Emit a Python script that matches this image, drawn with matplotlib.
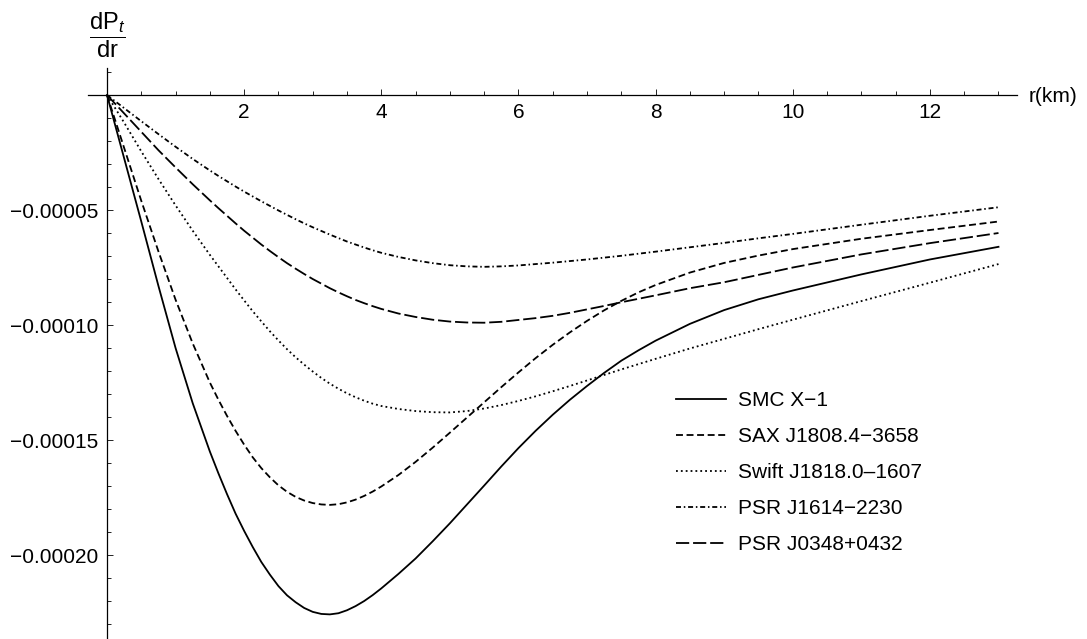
import matplotlib
matplotlib.use("Agg")
import matplotlib.pyplot as plt
from matplotlib.ticker import FixedLocator, FixedFormatter, MultipleLocator

plt.rcParams['font.family'] = ['Liberation Sans', 'DejaVu Sans']
plt.rcParams['mathtext.fontset'] = 'custom'
plt.rcParams['mathtext.rm'] = 'Liberation Sans'
plt.rcParams['mathtext.it'] = 'Liberation Sans:italic'
plt.rcParams['lines.scale_dashes'] = False

# radius (km) and dP_t/dr values, in units of 1e-5
r_km = [0, 0.25, 0.5, 0.75, 1.0, 1.25,
        1.5, 1.625, 1.75, 1.875, 2.0, 2.125, 2.25, 2.375, 2.5, 2.625, 2.75, 2.875,
        3.0, 3.125, 3.25, 3.375, 3.5, 3.625, 3.75, 3.875, 4.0,
        4.25, 4.5, 4.75, 5.0, 5.25, 5.5, 5.75, 6.0, 6.25, 6.5, 6.75, 7.0, 7.25,
        7.5, 7.75, 8.0,
        8.5, 9.0, 9.5, 10.0, 11.0, 12.0, 13.0]

smc_x1 = [0, -2.75, -5.5, -8.3, -11.0, -13.4,
          -15.5, -16.45, -17.35, -18.2, -18.95, -19.65, -20.3, -20.85, -21.35, -21.75,
          -22.05, -22.3, -22.47, -22.56, -22.58, -22.53, -22.4, -22.22, -22.0, -21.74,
          -21.45,
          -20.82, -20.15, -19.4, -18.62, -17.8, -16.98, -16.15, -15.35, -14.6, -13.9,
          -13.25, -12.65, -12.08, -11.55, -11.1, -10.68,
          -9.95, -9.35, -8.88, -8.5, -7.8, -7.15, -6.6]
sax_j1808 = [0, -2.3, -4.6, -6.8, -8.9, -10.8,
             -12.5, -13.25, -13.95, -14.6, -15.2, -15.75, -16.22, -16.62, -16.97, -17.25,
             -17.47, -17.63, -17.74, -17.8, -17.82, -17.79, -17.71, -17.59, -17.43,
             -17.24, -17.02,
             -16.52, -15.95, -15.33, -14.68, -14.02, -13.36, -12.7, -12.06, -11.44,
             -10.86, -10.32, -9.82, -9.36, -8.95, -8.58, -8.26,
             -7.72, -7.3, -6.98, -6.7, -6.25, -5.87, -5.5]
swift_j1818 = [0, -1.2, -2.45, -3.65, -4.8, -5.9,
               -6.95, -7.45, -7.95, -8.45, -8.93, -9.4, -9.84, -10.27, -10.67, -11.05,
               -11.4, -11.72, -12.02, -12.3, -12.55, -12.77, -12.97, -13.14, -13.29,
               -13.42, -13.52,
               -13.65, -13.74, -13.79, -13.8, -13.74, -13.63, -13.48, -13.3, -13.1,
               -12.88, -12.65, -12.41, -12.17, -11.93, -11.7, -11.47,
               -11.02, -10.6, -10.18, -9.77, -8.96, -8.16, -7.35]
psr_j1614 = [0, -0.57, -1.14, -1.7, -2.25, -2.78,
             -3.28, -3.52, -3.75, -3.98, -4.2, -4.41, -4.62, -4.82, -5.02, -5.21,
             -5.4, -5.58, -5.75, -5.91, -6.07, -6.22, -6.37, -6.5, -6.63, -6.75, -6.86,
             -7.04, -7.19, -7.31, -7.4, -7.45, -7.47, -7.45, -7.41, -7.35, -7.29,
             -7.22, -7.15, -7.07, -6.99, -6.9, -6.81,
             -6.62, -6.43, -6.23, -6.04, -5.64, -5.25, -4.88]
psr_j0348 = [0, -0.8, -1.6, -2.4, -3.15, -3.88,
             -4.58, -4.92, -5.25, -5.58, -5.9, -6.2, -6.5, -6.78, -7.05, -7.31,
             -7.55, -7.78, -8.0, -8.2, -8.4, -8.58, -8.75, -8.91, -9.05, -9.18, -9.3,
             -9.5, -9.65, -9.77, -9.85, -9.89, -9.9, -9.86, -9.78, -9.7, -9.6,
             -9.47, -9.32, -9.17, -9.01, -8.86, -8.71,
             -8.4, -8.14, -7.82, -7.5, -6.93, -6.44, -6.0]

star_names = ['SMC X\u22121', 'SAX J1808.4\u22123658', 'Swift J1818.0\u20131607',
              'PSR J1614\u22122230', 'PSR J0348+0432']
y_ticks = [-2e-4, -1.5e-4, -1e-4, -5e-5]
y_tick_labels = ['\u22120.00020', '\u22120.00015', '\u22120.00010', '\u22120.00005']
x_ticks = [2, 4, 6, 8, 10, 12]

series = [smc_x1, sax_j1808, swift_j1818, psr_j1614, psr_j0348]
styles = ['-', (0, (5.0, 2.6)), (0, (1.3, 2.2)), (0, (3.6, 2.0, 1.1, 2.0)),
          (0, (9.5, 2.8))]

W, H = 1087, 639
fig = plt.figure(figsize=(W / 100, H / 100), dpi=100)
ax = fig.add_axes([88 / W, 0, 929 / W, 571 / H])
ax.set_xlim(-0.277, 13.27)
ax.set_ylim(-2.365e-4, 1.174e-5)

for vals, ls, name in zip(series, styles, star_names):
    ax.plot(r_km, [v * 1e-5 for v in vals], color='black', lw=1.3, ls=ls,
            label=name, solid_joinstyle='round')

# mathematica-style axes crossing at the origin
for s in ['top', 'right']:
    ax.spines[s].set_visible(False)
ax.spines['left'].set_position(('data', 0))
ax.spines['bottom'].set_position(('data', 0))
for s in ['left', 'bottom']:
    ax.spines[s].set_linewidth(0.9)

ax.xaxis.set_major_locator(FixedLocator(x_ticks))
ax.xaxis.set_minor_locator(MultipleLocator(0.5))
ax.yaxis.set_major_locator(FixedLocator(y_ticks))
ax.yaxis.set_major_formatter(FixedFormatter(y_tick_labels))
ax.yaxis.set_minor_locator(MultipleLocator(1e-5))
ax.tick_params(which='major', direction='in', length=4.5, width=0.6, labelsize=15, pad=6)
ax.tick_params(which='minor', direction='in', length=2.6, width=0.6)

fig.text(1029 / W, 1 - 96 / H, 'r(km)', ha='left', va='center', fontsize=15)
fig.text(107 / W, 1 - 35 / H, r'$\dfrac{\mathrm{dP}_{t}}{\mathrm{dr}}$',
         ha='center', va='center', fontsize=17)

ax.legend(loc='upper left', bbox_to_anchor=(676 / W, 1 - 391 / H),
          bbox_transform=fig.transFigure, frameon=False, fontsize=15,
          handlelength=2.4, handletextpad=0.6, labelspacing=0.82,
          borderpad=0, borderaxespad=0)

fig.savefig('out.png', dpi=100)
